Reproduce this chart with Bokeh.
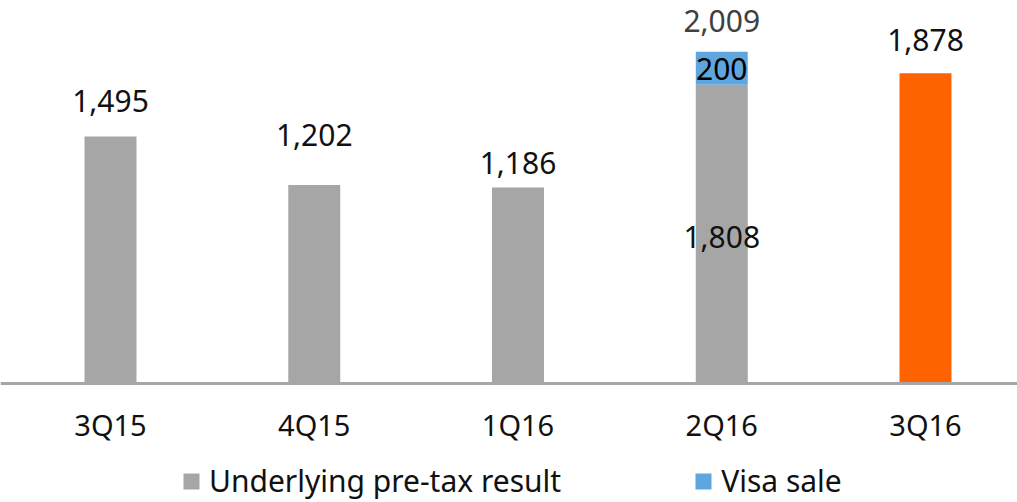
from bokeh.plotting import figure
from bokeh.models import ColumnDataSource, Range1d, FixedTicker, Legend, LegendItem
from bokeh.embed import file_html
from bokeh.resources import INLINE
from bokeh.core.properties import value

quarters = ["3Q15", "4Q15", "1Q16", "2Q16", "3Q16"]
underlying = [1495, 1202, 1186, 1808, 1878]
visa = [0, 0, 0, 200, 0]
totals = [1495, 1202, 1186, 2009, 1878]

GREY = "#a6a6a6"
BLUE = "#5ea6dd"
ORANGE = "#ff6200"
FONT = "Noto Sans"

xs = list(range(len(quarters)))
bar_colors = [GREY] * 4 + [ORANGE]

p = figure(width=1017, height=502, output_backend="svg", toolbar_location=None,
           x_range=Range1d(-0.5399, 4.4515), y_range=Range1d(-720, 2318),
           min_border_left=0, min_border_right=0, min_border_top=0, min_border_bottom=0)
p.outline_line_color = None
p.grid.visible = False
p.yaxis.visible = False
p.background_fill_color = "white"
p.border_fill_color = "white"

src = ColumnDataSource(dict(x=xs, base=[0] * 5, top=underlying, color=bar_colors))
r_under = p.vbar(x="x", bottom="base", top="top", width=0.255, fill_color="color",
                 line_color=None, source=src)

vsrc = ColumnDataSource(dict(x=xs, bottom=underlying, top=[u + v for u, v in zip(underlying, visa)]))
r_visa = p.vbar(x="x", bottom="bottom", top="top", width=0.255, fill_color=BLUE,
                line_color=None, source=vsrc)

# data labels
lab_x = [0, 1, 2, 3, 4, 3, 3]
lab_y = [totals[0], totals[1], totals[2], totals[3], totals[4], totals[3], underlying[3]]
lab_t = [f"{v:,}" for v in totals] + [f"{visa[3]:,}", f"{underlying[3]:,}"]
lab_off = [-35, -50, -25, -31, -33, 17, 152]
lab_col = ["#111111", "#111111", "#111111", "#404040", "#111111", "#000000", "#111111"]
lsrc = ColumnDataSource(dict(x=lab_x, y=lab_y, t=lab_t, off=lab_off, c=lab_col))
p.text(x="x", y="y", text="t", y_offset="off", text_color="c", source=lsrc,
       text_align="center", text_baseline="middle", text_font=value(FONT),
       text_font_size="30px")

ax = p.xaxis[0]
ax.fixed_location = 0
ax.ticker = FixedTicker(ticks=xs)
ax.major_label_overrides = {i: q for i, q in enumerate(quarters)}
ax.major_tick_line_color = None
ax.minor_tick_line_color = None
ax.axis_line_color = GREY
ax.axis_line_width = 3
ax.major_label_text_font = FONT
ax.major_label_text_font_size = "29px"
ax.major_label_text_color = "#111111"
ax.major_label_standoff = 15

legend = Legend(items=[LegendItem(label="Underlying pre-tax result", renderers=[r_under], index=0),
                       LegendItem(label="Visa sale", renderers=[r_visa], index=3)],
                orientation="horizontal", location=(181, 1))
legend.label_text_font = FONT
legend.label_text_font_size = "30px"
legend.label_text_color = "#111111"
legend.glyph_width = 20
legend.glyph_height = 20
legend.spacing = 132
legend.border_line_color = None
legend.background_fill_alpha = 0
legend.padding = 0
legend.margin = 0
legend.label_standoff = 8
p.add_layout(legend, "center")

open("out.html", "w").write(file_html(p, INLINE))
